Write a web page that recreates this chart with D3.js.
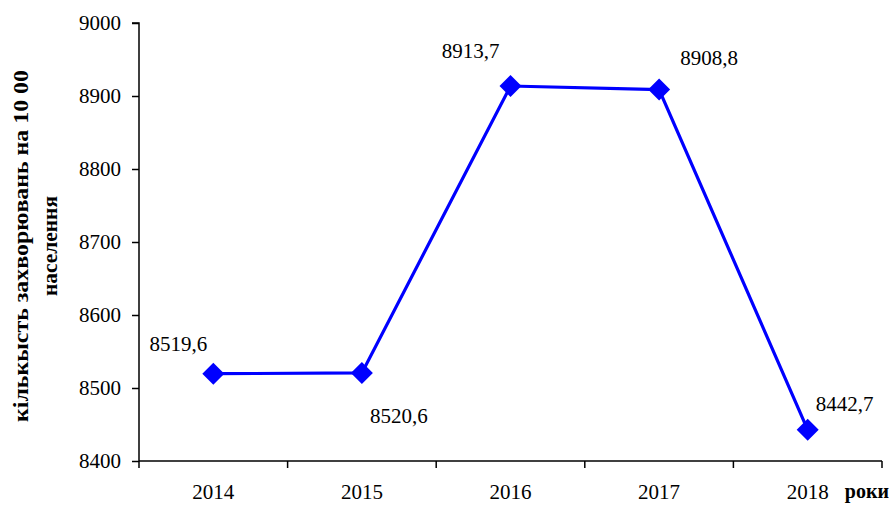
<!DOCTYPE html>
<html>
<head>
<meta charset="utf-8">
<script src="https://cdn.jsdelivr.net/npm/d3@7"></script>
<style>
  html, body { margin: 0; padding: 0; background: #fff; }
  svg { display: block; }
</style>
</head>
<body>
<svg id="chart" width="889" height="505"></svg>
<script>
// ---- data ----
const years = ["2014", "2015", "2016", "2017", "2018"];
const values = [8519.6, 8520.6, 8913.7, 8908.8, 8442.7];
const valueLabels = ["8519,6", "8520,6", "8913,7", "8908,8", "8442,7"];
const yTicks = [8400, 8500, 8600, 8700, 8800, 8900, 9000];
const yTitleLines = ["кількысть захворювань на 10 00", "населення"];
const xTitle = "роки";

// ---- layout ----
const FONT = "'Liberation Serif', 'Times New Roman', Tinos, 'DejaVu Serif', serif";
const labelOffsets = [[-35, -30], [37, 43], [-40, -35], [50, -32], [37, -26]];
const titleLengths = [352, 100];
const mLeft = 139, mRight = 882, mTop = 23, mBottom = 461;

const svg = d3.select("#chart");
const x = d3.scaleBand().domain(years).range([mLeft, mRight]).padding(0);
const y = d3.scaleLinear().domain([8400, 9000]).range([mBottom, mTop]);

// Y axis
const yAxis = svg.append("g")
  .attr("transform", `translate(${mLeft},0)`)
  .call(d3.axisLeft(y).tickValues(yTicks).tickSize(7).tickPadding(11).tickFormat(d3.format("d")));
yAxis.attr("font-family", null).attr("font-size", null);
yAxis.selectAll("path, line").attr("stroke", "#000").attr("stroke-width", 1.5);
yAxis.select(".domain").attr("d", `M-7,${mTop}H0V${mBottom}`);
yAxis.selectAll("text").style("font-size", "21px").style("font-family", FONT).attr("fill", "#000");

// X axis
const xAxis = svg.append("g")
  .attr("transform", `translate(0,${mBottom})`)
  .call(d3.axisBottom(x).tickSize(0).tickPadding(0));
xAxis.attr("font-family", null).attr("font-size", null);
xAxis.select(".domain").attr("stroke", "#000").attr("stroke-width", 1.5).attr("d", `M${mLeft},0H${mRight}`);
xAxis.selectAll("text").attr("dy", null).attr("y", 38)
  .style("font-size", "21px").style("font-family", FONT).attr("fill", "#000");
const boundaries = years.map(d => x(d)).concat([x(years[years.length - 1]) + x.bandwidth()]);
xAxis.selectAll(".bound").data(boundaries).enter().append("line")
  .attr("x1", d => d).attr("x2", d => d).attr("y1", 0).attr("y2", 7)
  .attr("stroke", "#000").attr("stroke-width", 1.5);

// Axis titles
const yt = svg.append("text")
  .attr("transform", "translate(0,246) rotate(-90)")
  .attr("text-anchor", "middle")
  .style("font-weight", "bold")
  .style("font-family", FONT)
  .style("font-size", "21px");
yt.selectAll("tspan").data(yTitleLines).enter().append("tspan")
  .attr("x", 0).attr("y", (d, i) => 28 + i * 29)
  .attr("textLength", (d, i) => titleLengths[i])
  .attr("lengthAdjust", "spacingAndGlyphs")
  .text(d => d);

svg.append("text")
  .attr("x", 889).attr("y", 498)
  .attr("text-anchor", "end")
  .style("font-weight", "bold")
  .style("font-family", FONT)
  .style("font-size", "20px")
  .text(xTitle);

// Line
const cx = d => x(d) + x.bandwidth() / 2;
const pts = years.map((d, i) => [cx(d), y(values[i])]);
svg.append("path")
  .attr("d", d3.line()(pts))
  .attr("fill", "none")
  .attr("stroke", "#0000FF")
  .attr("stroke-width", 3.2);

// Markers
svg.selectAll(".m").data(pts).enter().append("path")
  .attr("d", p => `M${p[0]},${p[1] - 11}L${p[0] + 11},${p[1]}L${p[0]},${p[1] + 11}L${p[0] - 11},${p[1]}Z`)
  .attr("fill", "#0000FF");

// Value labels
svg.selectAll(".lbl").data(pts).enter().append("text")
  .attr("x", (p, i) => p[0] + labelOffsets[i][0])
  .attr("y", (p, i) => p[1] + labelOffsets[i][1])
  .attr("text-anchor", "middle")
  .attr("dominant-baseline", "central")
  .style("font-family", FONT)
  .style("font-size", "21px")
  .text((p, i) => valueLabels[i]);
</script>
</body>
</html>
